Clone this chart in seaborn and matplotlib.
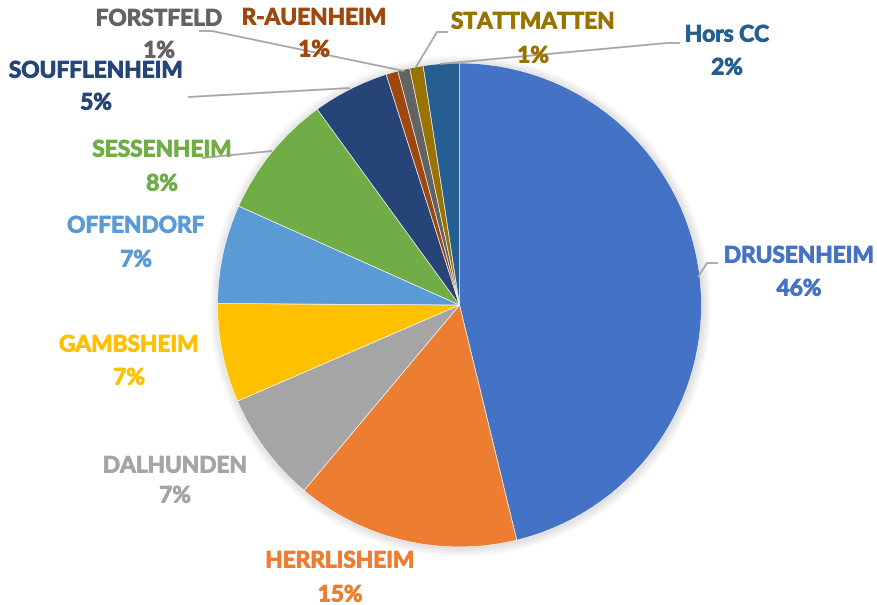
import matplotlib
matplotlib.use("Agg")
import matplotlib.pyplot as plt
import matplotlib.patheffects as pe
import seaborn as sns
import numpy as np

# Share of each commune (percent), clockwise from 12 o'clock
communes = ["DRUSENHEIM", "HERRLISHEIM", "DALHUNDEN", "GAMBSHEIM", "OFFENDORF",
            "SESSENHEIM", "SOUFFLENHEIM", "R-AUENHEIM", "FORSTFELD",
            "STATTMATTEN", "Hors CC"]
shares = [46.2, 14.9, 7.4, 6.6, 6.6, 8.3, 5.1, 0.8, 0.8, 0.9, 2.4]
colors = ["#4472C4", "#ED7D31", "#A5A5A5", "#FFC000", "#5B9BD5", "#70AD47",
          "#264478", "#9E480E", "#636363", "#997300", "#255E91"]

W, H = 877, 605
CX, CY, R = 459.5, 305, 242

sns.set_theme(style="white")
plt.rcParams["font.family"] = ["Lato", "DejaVu Sans"]

fig = plt.figure(figsize=(W / 100, H / 100), dpi=100)
ax = fig.add_axes([0, 0, 1, 1])


def fy(y):
    return H - y


# soft shadow around the pie
for i in range(10, 0, -1):
    ax.add_patch(plt.Circle((CX + 1, fy(CY + 1)), R + i * 0.9,
                            color="black", alpha=0.012, lw=0, zorder=0))

ax.pie(shares, colors=colors, startangle=90, counterclock=False,
       center=(CX, fy(CY)), radius=R,
       wedgeprops=dict(edgecolor="white", linewidth=0.4, zorder=1))

# label anchor (name line centre, percent line centre)
label_pos = {
    "DRUSENHEIM": (799, 256, 289),
    "HERRLISHEIM": (340, 561, 595),
    "DALHUNDEN": (175, 466, 496),
    "GAMBSHEIM": (129, 345, 378),
    "OFFENDORF": (136, 226, 260),
    "SESSENHEIM": (162, 150, 184),
    "SOUFFLENHEIM": (96, 71, 103),
    "R-AUENHEIM": (314, 18, 50),
    "FORSTFELD": (159, 19, 51),
    "STATTMATTEN": (533, 22, 56),
    "Hors CC": (727, 35, 68),
}

leaders = {
    "DRUSENHEIM": [(718, 263), (707, 263), (698, 277)],
    "SESSENHEIM": [(202, 158), (272, 151)],
    "SOUFFLENHEIM": [(188, 97), (350, 88)],
    "FORSTFELD": [(199, 31), (212, 31), (404, 71)],
    "STATTMATTEN": [(448, 32), (437, 32), (416, 67)],
    "Hors CC": [(680, 43), (667, 43), (440, 64)],
}
for pts in leaders.values():
    xs = [p[0] for p in pts]
    ys = [fy(p[1]) for p in pts]
    ax.plot(xs, ys, color="#A6A6A6", lw=1.3, zorder=3, solid_capstyle="butt")

total = sum(shares)
for name, val, col in zip(communes, shares, colors):
    x, y1, y2 = label_pos[name]
    effects = [pe.withStroke(linewidth=0.7, foreground=col)]
    ax.text(x, fy(y1), name, color=col, fontsize=16.3, fontweight="bold",
            ha="center", va="center", zorder=4, path_effects=effects)
    ax.text(x, fy(y2), f"{val / total * 100:.0f}%", color=col, fontsize=16.3,
            fontweight="bold", ha="center", va="center", zorder=4,
            path_effects=effects)

ax.set_xlim(0, W)
ax.set_ylim(0, H)
ax.set_aspect("equal")
ax.axis("off")

fig.savefig("out.png", dpi=100, facecolor="white")
